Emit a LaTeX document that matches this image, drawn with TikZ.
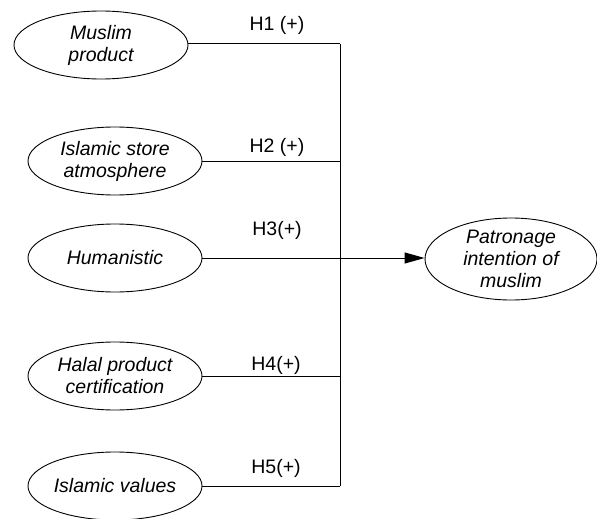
\documentclass[tikz,border=0pt]{standalone}
\usepackage{fontspec}
\setmainfont{Liberation Sans}
\usetikzlibrary{shapes.geometric,arrows.meta}
\tikzset{
  construct/.style={ellipse,draw,line width=0.9pt,minimum width=174pt,minimum height=68pt,inner sep=0pt,align=center,font=\fontsize{19.5}{22}\selectfont\itshape},
  hyp/.style={font=\fontsize{19.5}{22}\selectfont,inner sep=0pt},
  link/.style={line width=1pt}
}
\begin{document}
\begin{tikzpicture}[x=1pt,y=-1pt]
\useasboundingbox (0,0) rectangle (597,519);
\node[construct] (mp) at (101,45) {Muslim\\product};
\node[construct] (isa) at (115,161) {Islamic store\\atmosphere};
\node[construct] (hum) at (115,258) {Humanistic};
\node[construct] (hpc) at (115,376) {Halal product\\certification};
\node[construct] (iv) at (115,486) {Islamic values};
\node[construct,minimum width=172pt,minimum height=82pt] (pim) at (511,259) {Patronage\\intention of\\muslim};
\coordinate (bustop) at (340,44);
\coordinate (busbot) at (340,486);
\draw[link] (bustop) -- (busbot);
\draw[link] (mp.east |- bustop) -- (bustop);
\draw[link] (isa.east) -- (isa.east -| bustop);
\draw[link] (hum.east) -- (hum.east -| bustop);
\draw[link] (hpc.east) -- (hpc.east -| bustop);
\draw[link] (iv.east) -- (iv.east -| bustop);
\draw[link,-{Triangle[length=20pt,width=11pt]}] (hum.east -| bustop) -- (pim.west |- hum.east);
\node[hyp] (h1) at (277,25) {H1 (+)};
\node[hyp] (h2) at (277,147) {H2 (+)};
\node[hyp] (h3) at (277,230) {H3(+)};
\node[hyp] (h4) at (276,365) {H4(+)};
\node[hyp] (h5) at (276,468) {H5(+)};
\end{tikzpicture}
\end{document}
